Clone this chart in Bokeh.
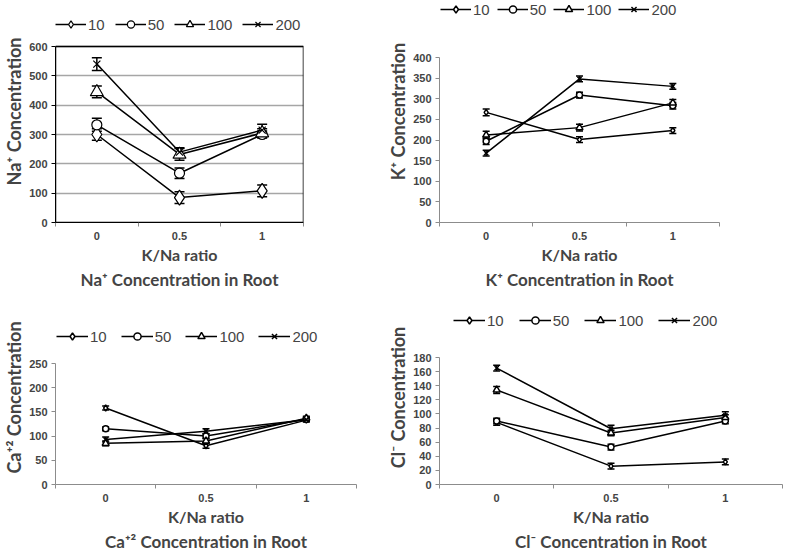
from bokeh.plotting import figure
from bokeh.models import (Range1d, FixedTicker, Legend, LegendItem, Whisker,
                          ColumnDataSource, BoxAnnotation, Title, TeeHead)
from bokeh.layouts import column, row
from bokeh.embed import file_html
from bokeh.resources import INLINE

# ---------------- data ----------------
x_ratio = [0, 0.5, 1]
x_labels = ["0", "0.5", "1"]
series_names = ["10", "50", "100", "200"]
series_markers = ["diamond", "circle", "triangle", "x"]

na_vals = {"10": [300, 85, 108], "50": [333, 168, 300],
           "100": [445, 232, 305], "200": [540, 240, 315]}
na_err = {"10": [20, 20, 20], "50": [22, 18, 12],
          "100": [20, 20, 15], "200": [22, 15, 20]}
na_ticks = [0, 100, 200, 300, 400, 500, 600]

k_vals = {"10": [267, 201, 223], "50": [197, 309, 283],
          "100": [212, 230, 290], "200": [168, 348, 330]}
k_err = {"10": [8, 7, 7], "50": [8, 7, 8], "100": [9, 8, 8], "200": [7, 7, 7]}
k_ticks = [0, 50, 100, 150, 200, 250, 300, 350, 400]

ca_vals = {"10": [158, 80, 133], "50": [115, 100, 135],
           "100": [85, 90, 137], "200": [93, 110, 134]}
ca_err = {"10": [4, 5, 4], "50": [4, 5, 4], "100": [5, 5, 4], "200": [5, 5, 4]}
ca_ticks = [0, 50, 100, 150, 200, 250]

cl_vals = {"10": [88, 26, 32], "50": [90, 53, 90],
           "100": [134, 73, 95], "200": [165, 79, 98]}
cl_err = {"10": [4, 4, 4], "50": [4, 4, 4], "100": [5, 4, 4], "200": [4, 5, 5]}
cl_ticks = [0, 20, 40, 60, 80, 100, 120, 140, 160, 180]

x_bounds = [-0.25, 0.25, 0.75, 1.25]

TICK_FONT = "Liberation Sans"
LABEL_FONT = "Lato"


def build(ox, oy, w, h, fl, fr, y0, ymaxpx, ymax, ft, yticks, vals, errs,
          ylabel, title, leg_left, leg_cy, big, boxed, leg_spacing, leg_gw):
    ppu = (y0 - ymaxpx) / ymax
    y_end = ymax + (ymaxpx - ft) / ppu
    p = figure(width=w, height=h, x_range=Range1d(x_bounds[0], x_bounds[-1]),
               y_range=Range1d(0, y_end), output_backend="svg",
               toolbar_location=None,
               min_border_left=fl - ox, min_border_right=ox + w - fr,
               min_border_top=ft - oy, min_border_bottom=oy + h - y0)
    p.outline_line_color = None
    p.background_fill_color = "white"
    p.border_fill_color = "white"
    p.xgrid.visible = False
    if boxed:
        p.ygrid.ticker = FixedTicker(ticks=yticks)
        p.ygrid.bounds = (0, ymax)
        p.ygrid.grid_line_color = "#a6a6a6"
        p.ygrid.grid_line_width = 1.5
    else:
        p.ygrid.visible = False

    axis_col = "black" if boxed else "#8c8c8c"
    # y axis
    ya = p.yaxis[0]
    ya.ticker = FixedTicker(ticks=yticks)
    ya.bounds = (0, ymax)
    ya.axis_line_color = axis_col
    ya.major_tick_line_color = axis_col
    ya.major_tick_out = 4
    ya.major_tick_in = 0
    ya.minor_tick_line_color = None
    ya.major_label_text_font = TICK_FONT
    ya.major_label_text_font_style = "bold"
    ya.major_label_text_font_size = "11px"
    ya.major_label_standoff = 4
    ya.axis_label = ylabel
    ya.axis_label_text_font = LABEL_FONT
    ya.axis_label_text_font_style = "bold"
    ya.axis_label_text_font_size = "18px"
    ya.axis_label_standoff = 1

    # x axis
    xa = p.xaxis[0]
    xa.ticker = FixedTicker(ticks=x_ratio, minor_ticks=x_bounds)
    xa.major_label_overrides = {v: s for v, s in zip(x_ratio, x_labels)}
    xa.axis_line_color = axis_col
    xa.major_tick_out = 0
    xa.major_tick_in = 0
    xa.minor_tick_out = 4
    xa.minor_tick_in = 0
    xa.minor_tick_line_color = "#8c8c8c"
    xa.major_label_text_font = TICK_FONT
    xa.major_label_text_font_style = "bold"
    xa.major_label_text_font_size = "11px"
    xa.major_label_standoff = 5
    xa.axis_label = "K/Na ratio"
    xa.axis_label_text_font = LABEL_FONT
    xa.axis_label_text_font_style = "bold"
    xa.axis_label_text_font_size = "16px"
    xa.axis_label_standoff = 2

    if boxed:
        p.add_layout(BoxAnnotation(left=x_bounds[0], right=x_bounds[-1],
                                   bottom=0, top=ymax, fill_alpha=0,
                                   line_color="black", line_width=1.5,
                                   line_alpha=1))

    items = []
    for name, mk in zip(series_names, series_markers):
        v = vals[name]
        e = errs[name]
        src = ColumnDataSource(dict(x=x_ratio, y=v,
                                    upper=[a + b for a, b in zip(v, e)],
                                    lower=[a - b for a, b in zip(v, e)]))
        lr = p.line("x", "y", source=src, line_color="black", line_width=1.5)
        if big:
            size = {"diamond": 15, "circle": 10, "triangle": 13, "x": 10}[mk]
            lw = 1.2
        else:
            size = {"diamond": 6, "circle": 6, "triangle": 7, "x": 6}[mk]
            lw = 1.5
        sr = p.scatter("x", "y", source=src, marker=mk, size=size,
                       fill_color="white", line_color="black", line_width=lw)
        cap = 10 if big else 7
        wk = Whisker(source=src, base="x", upper="upper", lower="lower",
                     dimension="height", line_color="black", line_width=1.5,
                     upper_head=TeeHead(size=cap, line_color="black", line_width=1.5),
                     lower_head=TeeHead(size=cap, line_color="black", line_width=1.5))
        p.add_layout(wk)
        items.append(LegendItem(label=name, renderers=[lr, sr]))

    leg_h = 18
    legend = Legend(items=items, orientation="horizontal",
                    location=(leg_left - fl, y0 - (leg_cy + leg_h / 2)),
                    padding=0, margin=0, border_line_alpha=0,
                    background_fill_alpha=0, glyph_width=leg_gw,
                    glyph_height=leg_h, label_standoff=2, spacing=leg_spacing,
                    label_width=0, label_height=leg_h,
                    label_text_font=TICK_FONT, label_text_font_size="15px")
    p.add_layout(legend)

    p.add_layout(Title(text=title, align="center", text_font=LABEL_FONT,
                       text_font_size="17px", text_font_style="bold",
                       standoff=0), "below")
    return p


# page origin is (0, 0); top row 296 px tall, bottom row 258 px tall.
# Frames of one row share top/bottom edges (Bokeh aligns them).
p1 = build(0, 0, 384, 296, 55, 303, 222, 46, 600, 0, na_ticks, na_vals, na_err,
           "Na⁺ Concentration", "Na⁺ Concentration in Root", 55, 24,
           True, True, 10, 31)
p2 = build(384, 0, 400, 296, 439, 719, 222, 57, 400, 0, k_ticks, k_vals, k_err,
           "K⁺ Concentration", "K⁺ Concentration in Root", 440, 9,
           False, False, 7, 31)
p3 = build(0, 296, 384, 258, 54, 356, 484, 363, 250, 310, ca_ticks, ca_vals, ca_err,
           "Ca⁺² Concentration", "Ca⁺² Concentration in Root", 55, 336,
           False, False, 14, 32)
p4 = build(384, 296, 400, 258, 439, 782, 484, 357, 180, 310, cl_ticks, cl_vals, cl_err,
           "Cl⁻ Concentration", "Cl⁻ Concentration in Root", 453, 320,
           False, False, 15, 32)

layout = column(row(p1, p2), row(p3, p4))
open("out.html", "w").write(file_html(layout, INLINE))
